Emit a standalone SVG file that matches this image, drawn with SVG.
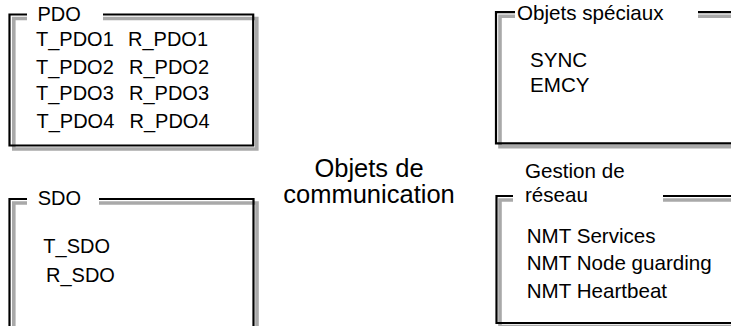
<svg xmlns="http://www.w3.org/2000/svg" width="731" height="326" viewBox="0 0 731 326">
<style>
.blk{fill:none;stroke:#000;stroke-width:2.2}
.gry{fill:none;stroke:#a9a9a9;stroke-width:3.6}
text{font-family:"Liberation Sans",Arial,sans-serif;font-size:20px;fill:#000}
.r{font-size:20.6px}
.big{font-size:25.5px;text-anchor:middle}
</style>
<rect width="731" height="326" fill="#fff"/>
<g id="connectors"/>
<g id="pdo">
<path class="gry" d="M103,18.5 H256.8 V149 H13.8 V18.5 H27"/>
<path class="blk" d="M103,14.5 H253.2 V145.5 H9.5 V14.5 H27"/>
<text x="37.5" y="21">PDO</text>
<text x="36" y="45.5">T_PDO1</text><text x="128" y="45.5">R_PDO1</text>
<text x="36" y="74">T_PDO2</text><text x="129" y="74">R_PDO2</text>
<text x="36" y="100">T_PDO3</text><text x="129" y="100">R_PDO3</text>
<text x="36.5" y="128">T_PDO4</text><text x="129.5" y="128">R_PDO4</text>
</g>
<g id="sdo">
<path class="gry" d="M99,203 H257 V330 M27,203 H13.8 V330"/>
<path class="blk" d="M99,199 H253.5 V330 M27,199 H9.5 V330"/>
<text x="37.7" y="205">SDO</text>
<text x="43.3" y="253.3">T_SDO</text>
<text x="46" y="281.7">R_SDO</text>
</g>
<g id="objets-speciaux">
<path class="gry" d="M698,16.2 H740 M515,16.2 H500 V146.8 H740"/>
<path class="blk" d="M698,12.2 H740 M515,12.2 H496 V143.3 H740"/>
<text class="r" x="517" y="19.5">Objets spéciaux</text>
<text class="r" x="530" y="66.7">SYNC</text>
<text class="r" x="530" y="91.7">EMCY</text>
</g>
<g id="gestion-reseau">
<path class="gry" d="M663,200 H740 M513,200 H500 V326.5 H740"/>
<path class="blk" d="M663,196 H740 M513,196 H496.5 V323 H740"/>
<text class="r" x="525" y="178.3">Gestion de</text>
<text class="r" x="525" y="201.7">réseau</text>
<text class="r" x="526.7" y="242.7">NMT Services</text>
<text class="r" x="526.7" y="270">NMT Node guarding</text>
<text class="r" x="526.7" y="298.3">NMT Heartbeat</text>
</g>
<g id="objets-communication">
<text class="big" x="369" y="176.7">Objets de</text>
<text class="big" x="369" y="203.3">communication</text>
</g>
</svg>
